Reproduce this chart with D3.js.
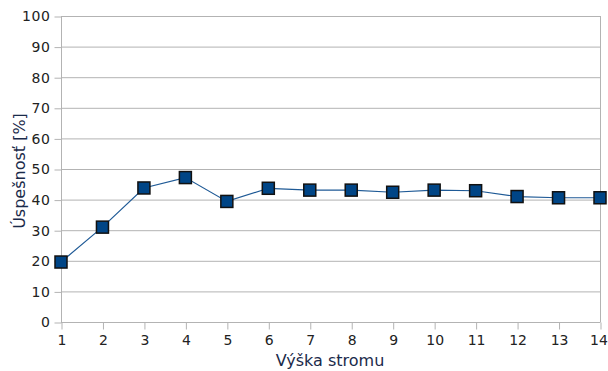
<!DOCTYPE html>
<html>
<head>
<meta charset="utf-8">
<script src="https://cdn.jsdelivr.net/npm/d3@7"></script>
<style>
  html, body { margin: 0; padding: 0; background: #fff; }
  svg { display: block; }
  text { font-family: "DejaVu Sans", sans-serif; }
</style>
</head>
<body>
<svg id="chart" width="608" height="371"></svg>
<script>
// Tree height on the x axis, success rate (%) on the y axis
const heights = [1, 2, 3, 4, 5, 6, 7, 8, 9, 10, 11, 12, 13, 14];
const success = [19.6, 31.0, 43.8, 47.2, 39.4, 43.7, 43.1, 43.1, 42.4, 43.1, 42.9, 41.0, 40.6, 40.6];
const yTicks = [0, 10, 20, 30, 40, 50, 60, 70, 80, 90, 100];
const xLabel = "Výška stromu";
const yLabel = "Úspešnosť [%]";

const svg = d3.select("#chart");
const m = { left: 61, right: 8, top: 16, bottom: 49 };
const W = 608, H = 371;

const x = d3.scaleLinear().domain([1, 14]).range([m.left, W - m.right]);
const y = d3.scaleLinear().domain([0, 100]).range([H - m.bottom, m.top]);

const gridColor = "#b3b3b3";

// horizontal grid lines
svg.append("g")
  .selectAll("line")
  .data(yTicks)
  .join("line")
  .attr("x1", m.left).attr("x2", W - m.right)
  .attr("y1", d => y(d) + 0.5).attr("y2", d => y(d) + 0.5)
  .attr("stroke", gridColor).attr("stroke-width", 1);

// right border
svg.append("line")
  .attr("x1", W - m.right + 0.5).attr("x2", W - m.right + 0.5)
  .attr("y1", m.top).attr("y2", y(0))
  .attr("stroke", gridColor);

// y axis
const yAxis = svg.append("g")
  .attr("transform", `translate(${m.left + 0.5},0.5)`)
  .call(d3.axisLeft(y).tickValues(yTicks).tickSize(7).tickPadding(4));
yAxis.select(".domain").attr("stroke", gridColor).attr("d", `M0,${y(100)}V${y(0)}`);
yAxis.selectAll(".tick line").attr("stroke", gridColor);
yAxis.selectAll(".tick text").attr("fill", "#222").attr("font-size", 14).attr("letter-spacing", 0.6);

// x axis
const xAxis = svg.append("g")
  .attr("transform", `translate(0.5,${y(0) + 0.5})`)
  .call(d3.axisBottom(x).tickValues(heights).tickFormat(d3.format("d")).tickSize(7).tickPadding(6));
xAxis.select(".domain").attr("stroke", gridColor).attr("d", `M${x(1)},0H${x(14)}`);
xAxis.selectAll(".tick line").attr("stroke", gridColor);
xAxis.selectAll(".tick text").attr("fill", "#222").attr("font-size", 14);
// keep the last label inside the right edge
xAxis.selectAll(".tick text").filter(d => d === heights[heights.length - 1]).attr("dx", -2);

// axis titles
svg.append("text")
  .attr("x", 330).attr("y", 366)
  .attr("text-anchor", "middle")
  .attr("font-size", 16)
  .attr("fill", "#1a2a4a")
  .text(xLabel);

svg.append("text")
  .attr("transform", `translate(25,${(y(0) + y(100)) / 2 + 2}) rotate(-90)`)
  .attr("text-anchor", "middle")
  .attr("font-size", 16)
  .attr("fill", "#1a2a4a")
  .text(yLabel);

// series line
const pts = heights.map((h, i) => [x(h), y(success[i])]);
svg.append("path")
  .attr("d", d3.line()(pts))
  .attr("fill", "none")
  .attr("stroke", "#1f5a96")
  .attr("stroke-width", 1.2);

// markers
const s = 12;
svg.append("g")
  .selectAll("rect")
  .data(pts)
  .join("rect")
  .attr("x", d => d[0] - s / 2).attr("y", d => d[1] - s / 2)
  .attr("width", s).attr("height", s)
  .attr("fill", "#004586")
  .attr("stroke", "#111")
  .attr("stroke-width", 1.5);
</script>
</body>
</html>
